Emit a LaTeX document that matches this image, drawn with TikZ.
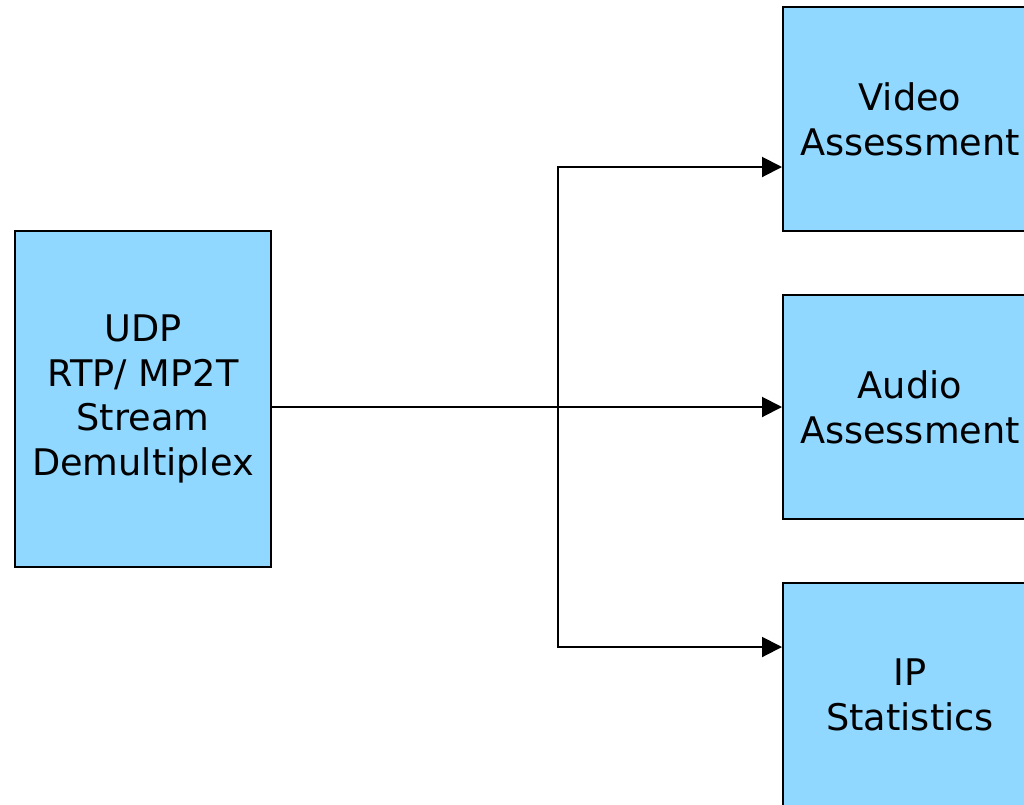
\documentclass[tikz,border=0pt]{standalone}
\usepackage{fontspec}
\setmainfont{DejaVu Sans}
\usetikzlibrary{arrows.meta}

\definecolor{boxblue}{RGB}{144,216,255}

\begin{document}
\begin{tikzpicture}[x=0.75pt,y=-0.75pt,>={Triangle[length=15pt,width=15pt]},
  line width=1.5pt,
  block/.style={rectangle,draw,fill=boxblue,align=center,inner sep=0pt,
    font=\fontsize{27.5}{33.5}\selectfont},
  src block/.style={block,minimum width=192pt,minimum height=252pt},
  out block/.style={block,minimum width=190.5pt,minimum height=168pt}]

  \useasboundingbox (0,0) rectangle (1024,804);
  \clip (0,0) rectangle (1024,804);

  \node[src block] (demux) at (143,399) {UDP\\RTP/ MP2T\\Stream\\Demultiplex};
  \node[out block] (video) at (910,119) {Video\\Assessment};
  \node[out block] (audio) at (910,407) {Audio\\Assessment};
  \node[out block] (ipstat) at (910,695) {IP\\Statistics};

  \coordinate (split) at (558,407);

  \draw[->] (demux.east |- audio.west) -- (audio.west);
  \draw[->] (split) |- ([yshift=-36pt]video.west);
  \draw[->] (split) |- ([yshift=36pt]ipstat.west);

\end{tikzpicture}
\end{document}
